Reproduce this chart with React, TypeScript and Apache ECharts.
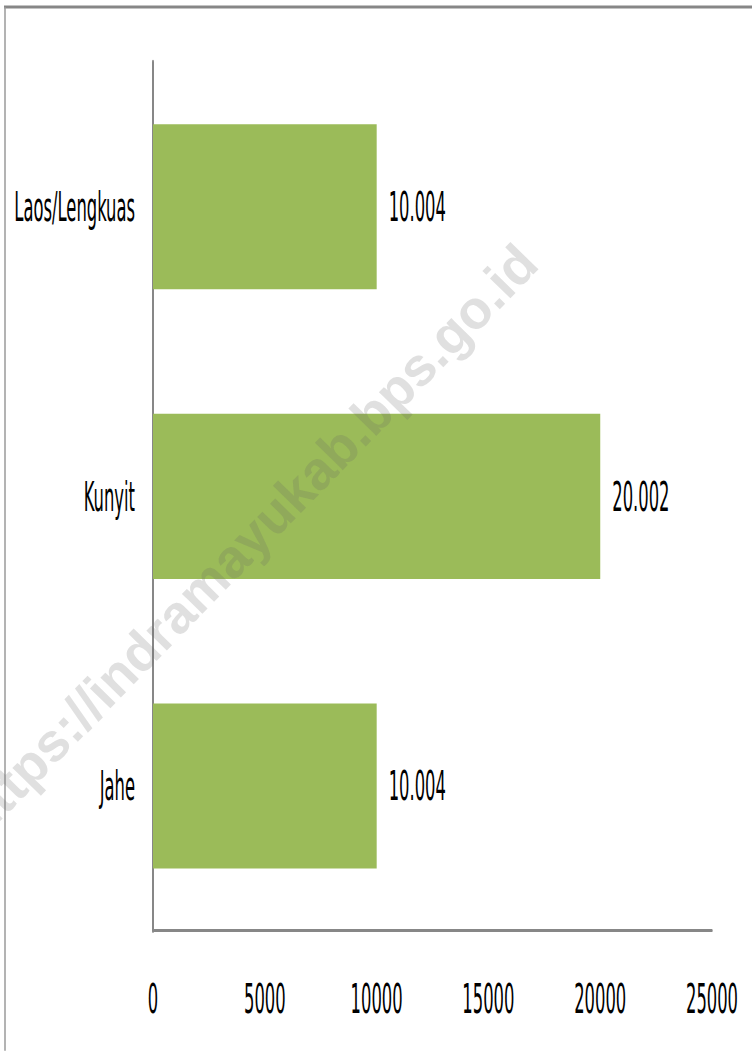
import React, { useEffect, useRef } from "react";
import * as echarts from "echarts";

const categories = ["Jahe", "Kunyit", "Laos/Lengkuas"];
const values = [10004, 20002, 10004];
const xTicks = [0, 5000, 10000, 15000, 20000, 25000];
const watermark = "https://indramayukab.bps.go.id";

const S = 2.25; // vertical stretch of the original picture
const W = 752;
const H = 1051;
const FONT = "'Liberation Sans Narrow', 'Arial Narrow', 'DejaVu Sans Condensed', sans-serif";
const FS = 18.2;

function fmt(v: number): string {
  return String(v).replace(/\B(?=(\d{3})+(?!\d))/g, ".");
}

export default function App() {
  const ref = useRef<HTMLDivElement>(null);
  useEffect(() => {
    if (!ref.current) return;
    const chart = echarts.init(ref.current, null, { renderer: "svg" });
    const h = H / S;
    chart.setOption({
      animation: false,
      backgroundColor: "#ffffff",
      grid: {
        left: 153,
        right: 40,
        top: 62 / S,
        bottom: (H - 931) / S,
        containLabel: false,
        outerBoundsMode: "none",
      },
      xAxis: {
        type: "value",
        min: xTicks[0],
        max: xTicks[xTicks.length - 1],
        interval: 5000,
        splitLine: { show: false },
        axisTick: { show: false },
        axisLine: { show: true, lineStyle: { color: "#878787", width: 3 / S } },
        axisLabel: {
          margin: 21.3,
          color: "#000",
          fontFamily: FONT,
          fontSize: FS,
          formatter: (v: number) => String(v),
        },
      },
      yAxis: {
        type: "category",
        data: categories,
        axisTick: { show: false },
        axisLine: { show: true, lineStyle: { color: "#878787", width: 2 } },
        axisLabel: { margin: 18, color: "#000", fontFamily: FONT, fontSize: FS },
      },
      series: [
        {
          type: "bar",
          data: values,
          barWidth: "57%",
          itemStyle: { color: "#9BBB59" },
          label: {
            show: true,
            position: "right",
            distance: 12,
            color: "#000",
            fontFamily: FONT,
            fontSize: FS,
            formatter: (p: any) => fmt(p.value),
          },
        },
      ],
      graphic: [
        {
          type: "line",
          shape: { x1: 4, y1: 7 / S, x2: W, y2: 7 / S },
          style: { stroke: "#878787", lineWidth: 3 / S },
          z: 10,
        },
        {
          type: "line",
          shape: { x1: 5, y1: 7 / S, x2: 5, y2: h },
          style: { stroke: "#9a9a9a", lineWidth: 1.5 },
          z: 10,
        },
        {
          type: "group",
          x: 0,
          y: 0,
          scaleX: 1,
          scaleY: 1 / S,
          z: 20,
          children: [
            {
              type: "text",
              x: 248,
              y: 540,
              rotation: (45.7 * Math.PI) / 180,
              style: {
                text: watermark,
                fontFamily: "'Liberation Sans', Arial, sans-serif",
                fontWeight: "bold",
                fontSize: 54,
                fill: "rgba(100,100,100,0.2)",
                align: "center",
                verticalAlign: "middle",
              },
              z: 20,
            },
          ],
        },
      ],
    });
    return () => chart.dispose();
  }, []);

  return (
    <div
      style={{
        position: "absolute",
        left: 0,
        top: 0,
        width: W,
        height: H,
        overflow: "hidden",
        background: "#fff",
      }}
    >
      <div
        style={{
          width: W,
          height: H / S,
          transform: `scaleY(${S})`,
          transformOrigin: "0 0",
        }}
      >
        <div ref={ref} style={{ width: W, height: H / S }} />
      </div>
    </div>
  );
}
